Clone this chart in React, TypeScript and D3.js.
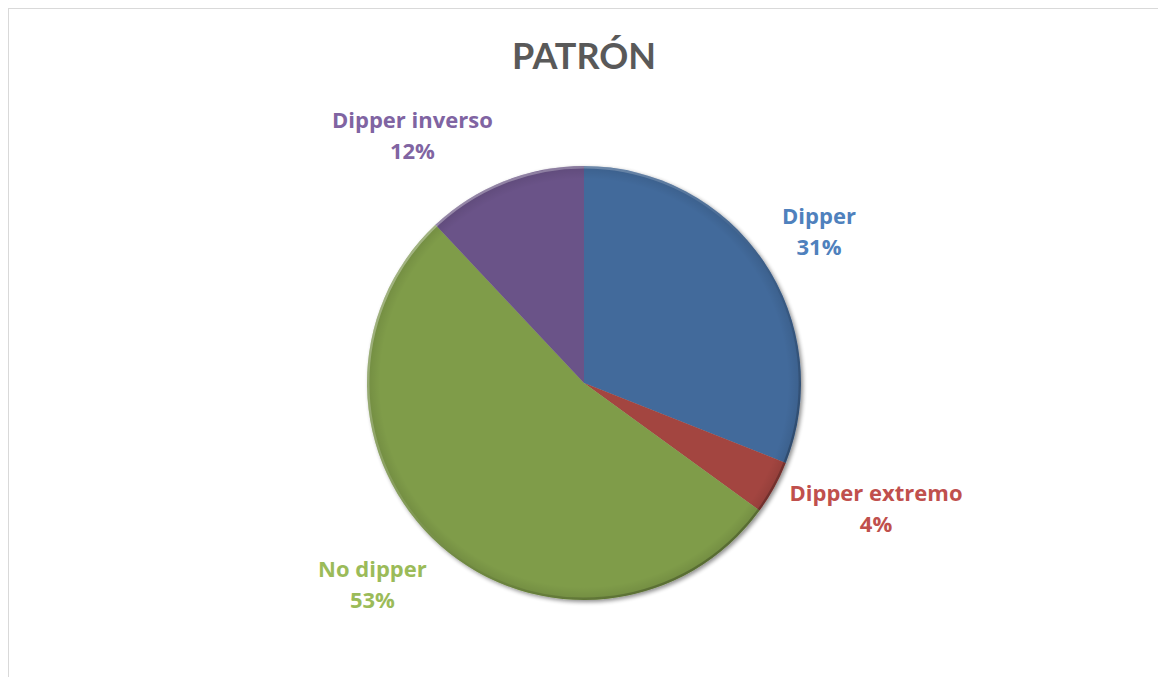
import React from "react";
import * as d3 from "d3";

const categories = ["Dipper", "Dipper extremo", "No dipper", "Dipper inverso"];
const values = [31, 4, 53, 12];
const sliceColors = ["#426a9b", "#a3443f", "#7f9c4a", "#6a5288"];
const labelColors = ["#4f81bd", "#c0504d", "#9bbb59", "#8064a2"];
const labelNudges: [number, number][] = [
  [-9, 7],
  [33.5, -24],
  [-16.5, -27],
  [-63, 19],
];

const W = 1158;
const H = 677;
const cx = 584;
const cy = 383;
const R = 217;
const TITLE_FONT = "Lato, 'Open Sans', sans-serif";
const LABEL_FONT = "'Open Sans', Lato, sans-serif";

export default function App() {
  const pie = d3.pie<number>().sort(null).value((d) => d);
  const arcs = pie(values);
  const arcGen = d3.arc<d3.PieArcDatum<number>>().innerRadius(0).outerRadius(R);
  const labelArc = d3.arc<d3.PieArcDatum<number>>().innerRadius(295).outerRadius(295);
  const total = d3.sum(values);

  return (
    <svg width={W} height={H} style={{ position: "absolute", left: 0, top: 0 }}>
      <defs>
        <filter id="sh" x="-20%" y="-20%" width="140%" height="140%">
          <feGaussianBlur in="SourceAlpha" stdDeviation="2" />
          <feOffset dx="1.5" dy="1.5" result="b" />
          <feComponentTransfer>
            <feFuncA type="linear" slope="0.45" />
          </feComponentTransfer>
          <feMerge>
            <feMergeNode />
            <feMergeNode in="SourceGraphic" />
          </feMerge>
        </filter>
        <radialGradient id="shade" cx="50%" cy="50%" r="50%">
          <stop offset="0.94" stopColor="#000" stopOpacity="0" />
          <stop offset="1" stopColor="#000" stopOpacity="0.1" />
        </radialGradient>
        <linearGradient id="rim" x1="0" y1="0" x2="1" y2="1">
          <stop offset="0" stopColor="#fff" stopOpacity="0.45" />
          <stop offset="0.45" stopColor="#fff" stopOpacity="0.1" />
          <stop offset="0.6" stopColor="#000" stopOpacity="0.05" />
          <stop offset="1" stopColor="#000" stopOpacity="0.35" />
        </linearGradient>
      </defs>
      <rect x={0} y={0} width={W} height={H} fill="#fff" />
      <rect x={8.5} y={8.5} width={W + 10} height={H + 10} fill="none" stroke="#d9d9d9" strokeWidth={1} />
      <text
        x={cx}
        y={69}
        textAnchor="middle"
        fontFamily={TITLE_FONT}
        fontWeight="bold"
        fontSize={36}
        fill="#595959"
      >
        PATRÓN
      </text>
      <g transform={`translate(${cx},${cy})`}>
        <g filter="url(#sh)">
          {arcs.map((a, i) => (
            <path key={i} d={arcGen(a) || ""} fill={sliceColors[i]} />
          ))}
        </g>
        <circle r={R} fill="url(#shade)" />
        <circle r={R - 1.2} fill="none" stroke="url(#rim)" strokeWidth={2.4} />
        {arcs.map((a, i) => {
          const [x, y] = labelArc.centroid(a);
          const [nx, ny] = labelNudges[i];
          const pct = Math.round((values[i] / total) * 100);
          return (
            <text
              key={"l" + i}
              y={y + ny}
              textAnchor="middle"
              fontFamily={LABEL_FONT}
              fontWeight="bold"
              fontSize={22}
              fill={labelColors[i]}
            >
              <tspan x={x + nx} dy={0}>{categories[i]}</tspan>
              <tspan x={x + nx} dy={31}>{pct + "%"}</tspan>
            </text>
          );
        })}
      </g>
    </svg>
  );
}
